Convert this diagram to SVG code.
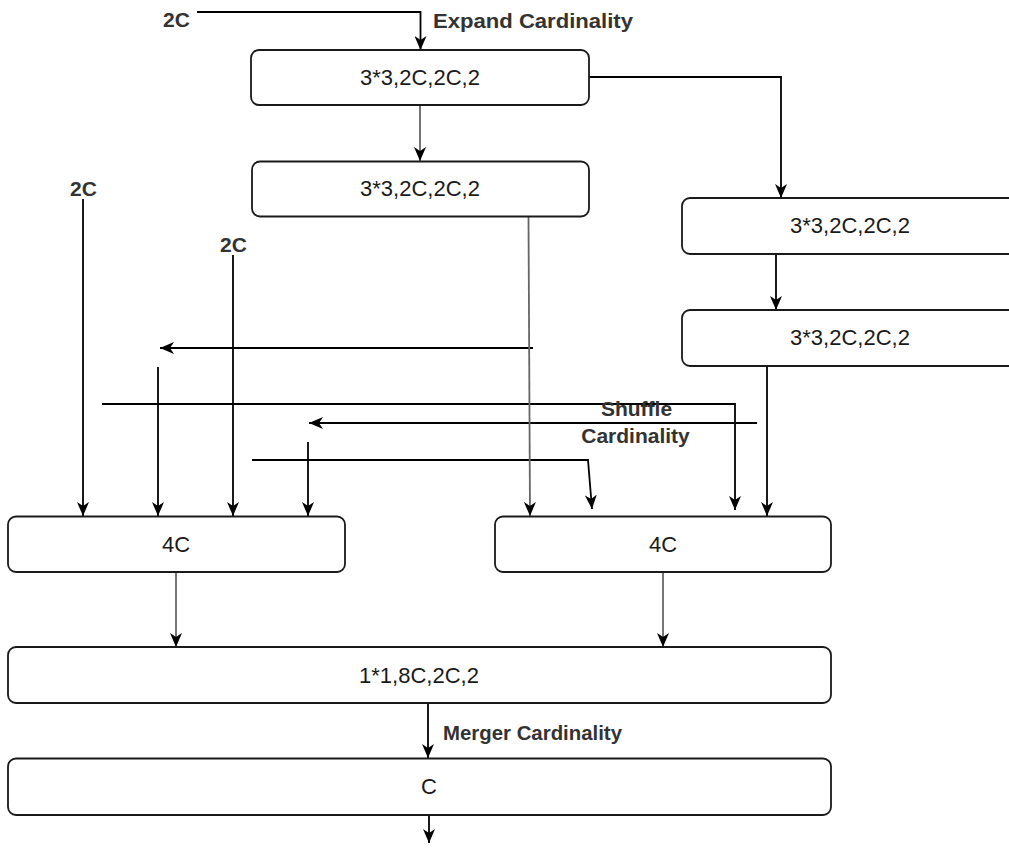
<svg xmlns="http://www.w3.org/2000/svg" width="1009" height="850" viewBox="0 0 1009 850">
<defs>
<style>
.box{fill:#fff;stroke:#1a1a1a;stroke-width:1.8}
.bt{font-family:"Liberation Sans",Arial,sans-serif;font-size:22px;fill:#1a1a1a;text-anchor:middle}
.lb{font-family:"Liberation Sans",Arial,sans-serif;font-size:21px;font-weight:bold;fill:#333}
.c{fill:none;stroke:#000;stroke-width:1.8;marker-end:url(#ar)}
.n{fill:none;stroke:#000;stroke-width:1.8}
.g{fill:none;stroke:#666;stroke-width:1.8;marker-end:url(#ar)}
</style>
<marker id="ar" markerUnits="userSpaceOnUse" viewBox="0 0 14 12" refX="14" refY="6" markerWidth="14" markerHeight="12" orient="auto">
<path d="M0,0 L14,6 L0,12 L4,6 Z" fill="#000"/>
</marker>
</defs>
<rect width="1009" height="850" fill="#fff"/>
<g id="connectors">
<path class="c" d="M197,12 H420.5 V50"/>
<path class="g" d="M420,105 V161"/>
<path class="c" d="M589,77 H781 V198"/>
<path class="c" d="M776,254 V310"/>
<path class="c" d="M83,199 V516"/>
<path class="c" d="M233,255 V516"/>
<path class="c" d="M533,348 H160"/>
<path class="c" d="M158,367 V516"/>
<path class="c" d="M102,404 H735 V510"/>
<path class="c" d="M757,423 H309"/>
<path class="c" d="M308,442 V516"/>
<path class="c" d="M252,460 H588 L592,509"/>
<path class="g" d="M528.5,217 L530,516"/>
<path class="c" d="M767,366 V516"/>
<path class="g" d="M176,572 V647"/>
<path class="g" d="M663,572 V647"/>
<path class="c" d="M428,703 V758"/>
<path class="c" d="M429,815 V843"/>
</g>
<g id="labels">
<text class="lb" x="176.5" y="27" text-anchor="middle">2C</text>
<text class="lb" x="433" y="28" textLength="200" lengthAdjust="spacingAndGlyphs">Expand Cardinality</text>
<text class="lb" x="83.5" y="196" text-anchor="middle">2C</text>
<text class="lb" x="233.5" y="252" text-anchor="middle">2C</text>
<text class="lb" x="636.5" y="416" text-anchor="middle">Shuffle</text>
<text class="lb" x="635.5" y="443" text-anchor="middle">Cardinality</text>
<text class="lb" x="443" y="740" textLength="179" lengthAdjust="spacingAndGlyphs">Merger Cardinality</text>
</g>
<g id="node1">
<rect class="box" x="251" y="50" width="338" height="55" rx="8"/>
<text class="bt" x="420" y="85">3*3,2C,2C,2</text>
</g>
<g id="node2">
<rect class="box" x="252" y="161.5" width="337" height="55" rx="8"/>
<text class="bt" x="420" y="196">3*3,2C,2C,2</text>
</g>
<g id="node3">
<rect class="box" x="682" y="198" width="338" height="56" rx="8"/>
<text class="bt" x="850" y="233">3*3,2C,2C,2</text>
</g>
<g id="node4">
<rect class="box" x="682" y="310" width="338" height="56" rx="8"/>
<text class="bt" x="850" y="345">3*3,2C,2C,2</text>
</g>
<g id="node5">
<rect class="box" x="8" y="516.5" width="337" height="55.5" rx="8"/>
<text class="bt" x="176" y="552">4C</text>
</g>
<g id="node6">
<rect class="box" x="495" y="516.5" width="336" height="55.5" rx="8"/>
<text class="bt" x="663" y="552">4C</text>
</g>
<g id="node7">
<rect class="box" x="8" y="647" width="823" height="56" rx="8"/>
<text class="bt" x="419" y="683">1*1,8C,2C,2</text>
</g>
<g id="node8">
<rect class="box" x="8" y="758.5" width="823" height="56.5" rx="8"/>
<text class="bt" x="429" y="794">C</text>
</g>
</svg>
